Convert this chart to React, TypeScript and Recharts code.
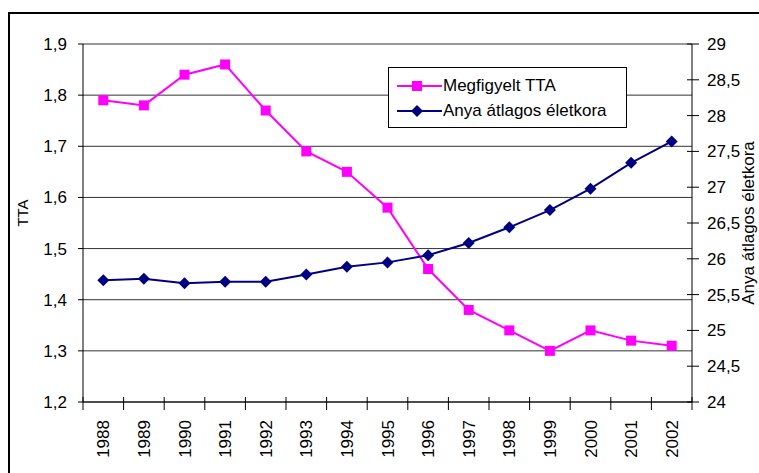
import { CartesianGrid, Legend, Line, LineChart, XAxis, YAxis } from "recharts";

const years = ["1988", "1989", "1990", "1991", "1992", "1993", "1994", "1995", "1996", "1997", "1998", "1999", "2000", "2001", "2002"];
const ttaValues = [1.79, 1.78, 1.84, 1.86, 1.77, 1.69, 1.65, 1.58, 1.46, 1.38, 1.34, 1.3, 1.34, 1.32, 1.31];
const motherAge = [25.7, 25.72, 25.66, 25.68, 25.68, 25.78, 25.89, 25.95, 26.05, 26.22, 26.44, 26.68, 26.98, 27.34, 27.64];
const leftTicks = [1.2, 1.3, 1.4, 1.5, 1.6, 1.7, 1.8, 1.9];
const rightTicks = [24, 24.5, 25, 25.5, 26, 26.5, 27, 27.5, 28, 28.5, 29];

const TTA_NAME = "Megfigyelt TTA";
const AGE_NAME = "Anya átlagos életkora";
const PINK = "#ff00ff";
const NAVY = "#000080";
const FONT = '"Liberation Sans", Arial, sans-serif';

const W = 759;
const H = 473;
const PLOT_LEFT = 83;
const PLOT_RIGHT = 692;
const BAND = (PLOT_RIGHT - PLOT_LEFT) / years.length;

const data = years.map((year, i) => ({ year, tta: ttaValues[i], age: motherAge[i] }));

const comma = (v: number) => (Number.isInteger(v) ? String(v) : v.toFixed(1).replace(".", ","));

const Square = (props: any) => {
  const { cx, cy, index } = props;
  return <rect key={`sq-${index}`} x={cx - 5} y={cy - 5} width={10} height={10} fill={PINK} />;
};

const Diamond = (props: any) => {
  const { cx, cy, index } = props;
  return (
    <path
      key={`dm-${index}`}
      d={`M${cx},${cy - 6}L${cx + 6},${cy}L${cx},${cy + 6}L${cx - 6},${cy}Z`}
      fill={NAVY}
    />
  );
};

const YearTick = (props: any) => {
  const { x, y, payload, index } = props;
  const tx = x + 6;
  const ty = y + 18;
  return (
    <g>
      <line x1={x - BAND / 2} x2={x - BAND / 2} y1={y - 5} y2={y + 8} stroke="#000" />
      {index === years.length - 1 && (
        <line x1={x + BAND / 2} x2={x + BAND / 2} y1={y - 5} y2={y + 8} stroke="#000" />
      )}
      <text
        x={tx}
        y={ty}
        transform={`rotate(-90, ${tx}, ${ty})`}
        textAnchor="end"
        fontSize={17}
        fontFamily={FONT}
        fill="#000"
      >
        {payload.value}
      </text>
    </g>
  );
};

const RightTick = (props: any) => {
  const { x, y, payload } = props;
  return (
    <g>
      <line x1={x - 5} x2={x + 7} y1={y} y2={y} stroke="#000" />
      <text x={x + 15} y={y} dy="0.355em" fontSize={17} fontFamily={FONT} fill="#000">
        {comma(payload.value)}
      </text>
    </g>
  );
};

const LegendBox = () => (
  <div
    style={{
      width: 239,
      height: 61,
      boxSizing: "border-box",
      border: "1px solid #000",
      background: "#fff",
      fontFamily: FONT,
      fontSize: 17,
      color: "#000",
      paddingTop: 5,
    }}
  >
    {[
      { name: TTA_NAME, color: PINK, shape: "square" },
      { name: AGE_NAME, color: NAVY, shape: "diamond" },
    ].map((item) => (
      <div key={item.name} style={{ display: "flex", alignItems: "center", height: 25, paddingLeft: 8 }}>
        <svg width={45} height={14} style={{ flex: "none" }}>
          <line x1={0} x2={45} y1={7} y2={7} stroke={item.color} strokeWidth={2} />
          {item.shape === "square" ? (
            <rect x={15} y={2} width={10} height={10} fill={item.color} />
          ) : (
            <path d="M20,1L26,7L20,13L14,7Z" fill={item.color} />
          )}
        </svg>
        <span style={{ marginLeft: 1, whiteSpace: "nowrap" }}>{item.name}</span>
      </div>
    ))}
  </div>
);

export default function App() {
  return (
    <div style={{ position: "absolute", left: 0, top: 0, width: W, height: H, overflow: "hidden", background: "#fff" }}>
      <div
        style={{
          position: "absolute",
          left: 8,
          top: 12,
          width: 900,
          height: 600,
          borderTop: "2px solid #000",
          borderLeft: "2px solid #000",
        }}
      />
      <div style={{ position: "absolute", left: 0, top: 0 }}>
        <LineChart width={W} height={H} data={data} margin={{ top: 44, right: 17, bottom: 11, left: 43 }}>
          <CartesianGrid yAxisId="left" vertical={false} stroke="#333" strokeWidth={1} />
          <XAxis
            dataKey="year"
            height={60}
            interval={0}
            padding={{ left: BAND / 2, right: BAND / 2 }}
            stroke="#000"
            tickLine={false}
            tickSize={0}
            tickMargin={0}
            tick={<YearTick />}
          />
          <YAxis
            yAxisId="left"
            width={40}
            domain={[1.2, 1.9]}
            ticks={leftTicks}
            stroke="#000"
            tickSize={5}
            tickMargin={11}
            tickFormatter={comma}
            tick={{ fontSize: 17, fontFamily: FONT, fill: "#000" }}
            label={() => (
              <text
                x={28}
                y={213}
                transform="rotate(-90, 28, 213)"
                textAnchor="middle"
                fontSize={15}
                fontFamily={FONT}
                fill="#000"
              >
                TTA
              </text>
            )}
          />
          <YAxis
            yAxisId="right"
            orientation="right"
            width={50}
            domain={[24, 29]}
            ticks={rightTicks}
            stroke="#000"
            tickLine={false}
            tickSize={0}
            tickMargin={0}
            tick={<RightTick />}
            label={() => (
              <text
                x={754}
                y={223}
                transform="rotate(-90, 754, 223)"
                textAnchor="middle"
                fontSize={17}
                fontFamily={FONT}
                fill="#000"
              >
                {AGE_NAME}
              </text>
            )}
          />
          <Legend
            layout="vertical"
            align="center"
            verticalAlign="middle"
            content={<LegendBox />}
            wrapperStyle={{ position: "absolute", left: 388, top: 67, width: 239 }}
          />
          <Line
            yAxisId="left"
            dataKey="tta"
            name={TTA_NAME}
            stroke={PINK}
            strokeWidth={2}
            dot={<Square />}
            activeDot={false}
            isAnimationActive={false}
          />
          <Line
            yAxisId="right"
            dataKey="age"
            name={AGE_NAME}
            stroke={NAVY}
            strokeWidth={2}
            dot={<Diamond />}
            activeDot={false}
            isAnimationActive={false}
          />
        </LineChart>
      </div>
    </div>
  );
}
